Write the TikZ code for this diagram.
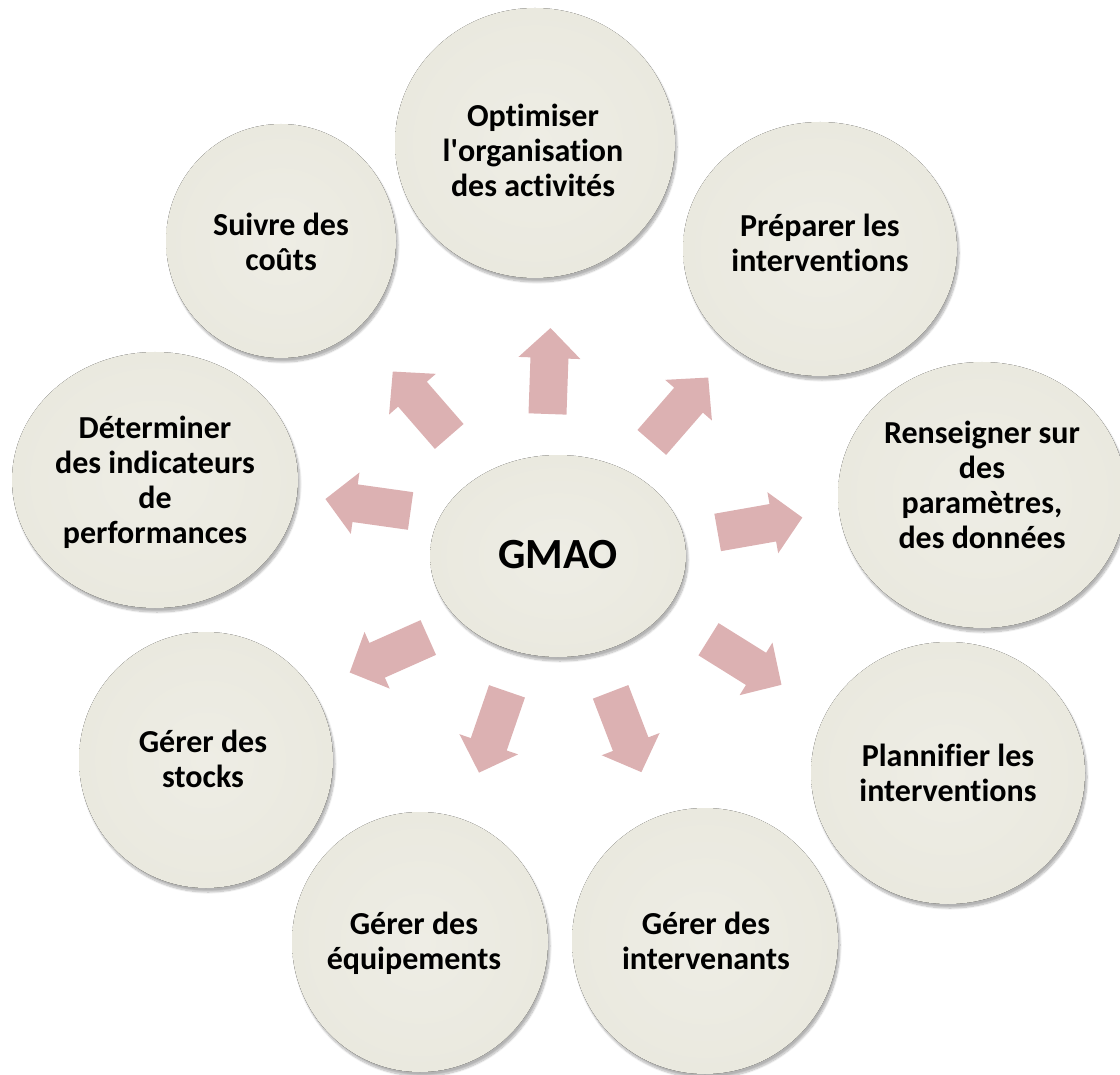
\documentclass[tikz,border=0pt]{standalone}
\usepackage{fontspec}
\setmainfont[Ligatures={NoCommon}]{Carlito}
\usetikzlibrary{shadows.blur}
\definecolor{cream}{HTML}{EEEDE5}
\definecolor{creamdark}{HTML}{EAE9DF}
\definecolor{rosy}{HTML}{DCB1B2}
\tikzset{bubble/.style={inner color=cream, outer color=creamdark, blur shadow={shadow xshift=2pt, shadow yshift=-4pt, shadow blur steps=10, shadow opacity=30}}, lab/.style={font=\fontsize{32}{35}\selectfont\bfseries, align=center, text=black}, big/.style={font=\fontsize{43}{50}\selectfont\bfseries, text=black}, blk/.pic={\fill[rosy] (-43,-19) -- (13,-19) -- (13,-31) -- (43,0) -- (13,31) -- (13,19) -- (-43,19) -- cycle;}}

\begin{document}
\begin{tikzpicture}[x=1pt,y=1pt]
\useasboundingbox (0,0) rectangle (1120,-1075);
\fill[bubble] (535,-143) ellipse (140 and 135); \node[lab] (opt) at (533,-150) {Optimiser\\l\textquotesingle organisation\\des activités};
\fill[bubble] (820,-249) ellipse (137 and 127); \node[lab] (prep) at (820,-243) {Préparer les\\interventions};
\fill[bubble] (982,-495) ellipse (144 and 133); \node[lab] (rens) at (982,-485) {Renseigner sur\\des\\paramètres,\\des données};
\fill[bubble] (948,-773) ellipse (137 and 131); \node[lab] (plan) at (948,-773) {Plannifier les\\interventions};
\fill[bubble] (705,-941) ellipse (133 and 133); \node[lab] (interv) at (706,-941) {Gérer des\\intervenants};
\fill[bubble] (420,-942) ellipse (128 and 130); \node[lab] (equip) at (414,-943) {Gérer des\\équipements};
\fill[bubble] (206,-760) ellipse (127 and 128); \node[lab] (stock) at (203,-759) {Gérer des\\stocks};
\fill[bubble] (155,-480) ellipse (143 and 128); \node[lab] (indic) at (155,-482) {Déterminer\\des indicateurs\\de\\performances};
\fill[bubble] (281,-241) ellipse (115 and 117); \node[lab] (couts) at (281,-242) {Suivre des\\coûts};
\fill[bubble] (558,-556) ellipse (128 and 101); \node[big] (gmao) at (558,-555) {GMAO};
% fleches
\pic[rotate=88] at (549,-371) {blk};
\pic[rotate=49] at (680,-410) {blk};
\pic[rotate=10] at (760,-525) {blk};
\pic[rotate=-32] at (745,-662) {blk};
\pic[rotate=-69] at (626,-732) {blk};
\pic[rotate=-109] at (493,-732) {blk};
\pic[rotate=-156] at (389,-655) {blk};
\pic[rotate=172] at (368,-505) {blk};
\pic[rotate=131] at (421,-404) {blk};
\end{tikzpicture}
\end{document}
